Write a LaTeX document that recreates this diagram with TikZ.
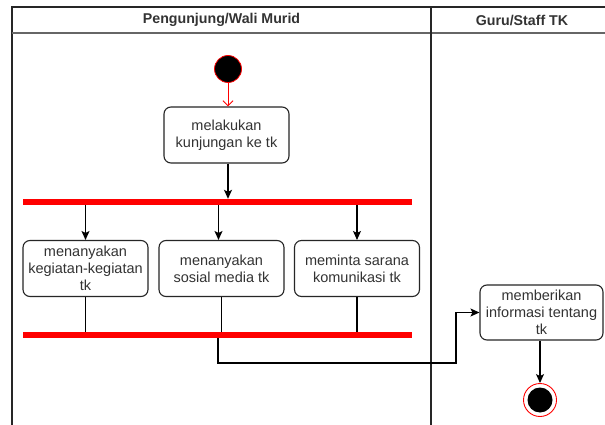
\documentclass[tikz,border=0pt]{standalone}
\usepackage{fontspec}
\setmainfont{Liberation Sans}
\usetikzlibrary{arrows.meta,positioning}
\begin{document}
\begin{tikzpicture}[x=1pt,y=-1pt,
  act/.style={draw=black!85,line width=1.1pt,rounded corners=7pt,fill=white,
    minimum width=125pt,minimum height=56pt,inner sep=1pt,align=center,
    font=\fontsize{14.5}{16.8}\selectfont,text=black!80},
  bar/.style={fill=red,draw=none,minimum width=389pt,minimum height=6pt,inner sep=0pt},
  flow/.style={line width=1.1pt,draw=black,-{Stealth[length=9pt,width=8pt,inset=2pt]}},
  plain/.style={line width=1.1pt,draw=black},
  lane/.style={line width=1.2pt,draw=black!85},
  head/.style={font=\bfseries\fontsize{14.2}{16}\selectfont,text=black!80}]
\useasboundingbox (0,0) rectangle (605,425);
\fill[white] (0,0) rectangle (605,425);
% lanes
\draw[lane] (12,425) -- (12,7) -- (605,7);
\draw[line width=2pt,draw=black!60] (12,33) -- (605,33);
\draw[lane] (431,7) -- (431,425);
\node[head] (h1) at (221.5,20) {Pengunjung/Wali Murid};
\node[head] (h2) at (522,20) {Guru/Staff TK};
% start
\node[circle,fill=black,draw=red,line width=0.8pt,minimum size=27pt,inner sep=0pt] (start) at (228,69) {};
\node[act] (a0) at (226.5,135) {melakukan\\kunjungan ke tk};
\draw[draw=red,line width=1pt,-{Straight Barb[length=5pt,width=10pt]}] (start) -- (start |- a0.north);
\node[bar] (fork) at (217.5,202) {};
\draw[flow] (start |- a0.south) -- (start |- fork.north);
\node[act] (b1) at (85.5,268.5) {menanyakan\\kegiatan-kegiatan\\tk};
\node[act] (b2) at (221.5,268.5) {menanyakan\\sosial media tk};
\node[act] (b3) at (357,268.5) {meminta sarana\\komunikasi tk};
\draw[flow] (b1.north |- fork.south) -- (b1.north);
\draw[flow] ([xshift=-3pt]b2.north |- fork.south) -- ([xshift=-3pt]b2.north);
\draw[flow] (b3.north |- fork.south) -- (b3.north);
\node[bar] (join) at (217.5,335) {};
\draw[plain] (b1.south) -- (b1.south |- join.north);
\draw[plain] (b2.south) -- (b2.south |- join.north);
\draw[plain] (b3.south) -- (b3.south |- join.north);
\node[act,minimum width=123pt,minimum height=55pt] (c1) at (541.5,312.5) {memberikan\\informasi tentang\\tk};
\coordinate (j0) at (218,338);
\coordinate (j1) at (218,363);
\coordinate (j2) at (456,363);
\draw[flow,rounded corners=0pt] (j0) -- (j1) -- (j2) -- (j2 |- c1.west) -- (c1.west);
% end
\node[circle,fill=white,draw=red,line width=0.9pt,minimum size=33pt,inner sep=0pt] (endo) at (540,400) {};
\node[circle,fill=black,minimum size=25pt,inner sep=0pt] (endi) at (endo) {};
\draw[flow] (c1.south -| endo) -- (endo.north);
\end{tikzpicture}
\end{document}
